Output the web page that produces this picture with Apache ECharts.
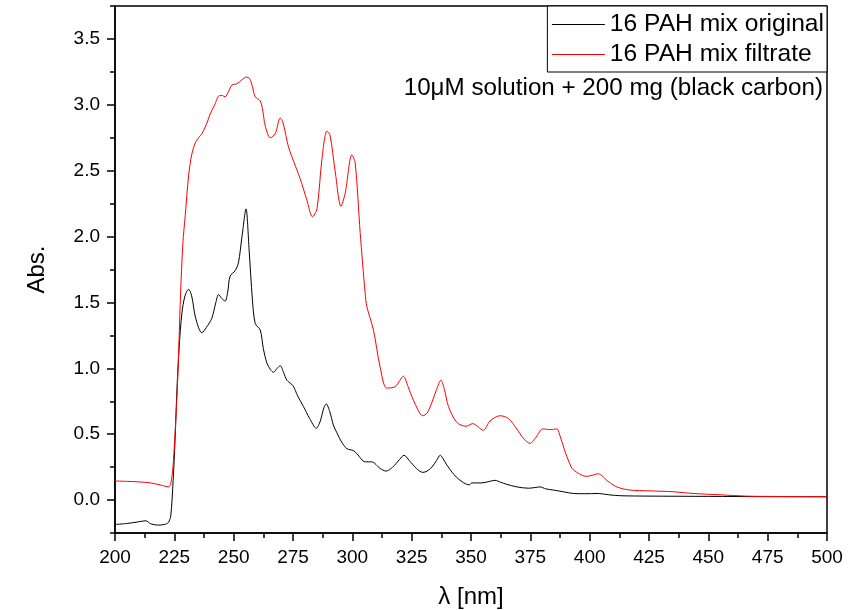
<!DOCTYPE html>
<html>
<head>
<meta charset="utf-8">
<script src="https://cdn.jsdelivr.net/npm/echarts@6/dist/echarts.min.js"></script>
<style>html,body{margin:0;padding:0;background:#fff}#c{width:856px;height:610px}</style>
</head>
<body>
<div id="c"></div>
<script>
// ---- data ----
var origWavelength = [200,205,210,213,215,218,221,222.5,223.5,224.5,225.3,226.1,227,228.2,229.5,231,232.3,234,236.6,238.5,240.8,242.5,243.6,245,246.4,247.5,248.5,250.6,252,253.5,255.2,256.5,257.9,259.1,261.2,262.5,264,265.5,266.8,268.3,269.6,271,272.4,274.9,277,279.4,282,284.8,286.5,288,289,290.5,292,293.5,295.5,297.7,300.5,302,305.4,308.2,311.7,314.2,317,320,321.8,324,327,329.7,331.5,333.5,335.5,337,339,341.2,344.7,349.3,350.3,354.5,357.5,360.1,362.5,365,369.3,374.2,377,379.1,381.5,384.7,388.9,393.1,398,403.6,408,412.8,425,450,475,500];
var origAbs = [-0.185,-0.178,-0.165,-0.157,-0.18,-0.19,-0.185,-0.17,-0.12,0.15,0.45,0.84,1.15,1.42,1.55,1.60,1.55,1.38,1.27,1.31,1.38,1.50,1.56,1.53,1.51,1.58,1.70,1.74,1.80,2.0,2.21,1.90,1.52,1.34,1.29,1.15,1.04,0.99,0.97,1.00,1.02,0.97,0.91,0.87,0.79,0.71,0.62,0.545,0.60,0.70,0.73,0.67,0.57,0.51,0.44,0.39,0.375,0.35,0.29,0.29,0.24,0.22,0.25,0.31,0.34,0.30,0.24,0.21,0.22,0.25,0.30,0.34,0.29,0.23,0.16,0.115,0.13,0.13,0.14,0.15,0.135,0.12,0.10,0.09,0.095,0.10,0.085,0.076,0.063,0.05,0.048,0.05,0.04,0.033,0.03,0.028,0.026,0.025];

var filtWavelength = [200,205,210,215,219,222.6,224,225,226.4,227.6,228.6,229.6,231,232.3,233.8,235.2,236.6,238.5,240.1,242,244,245.2,246.4,247.8,249.3,251.4,253.5,255.3,256.7,258,259.1,261.2,262.3,263.3,265.4,267.5,269.6,270.7,273.1,275.5,278,280.8,283.2,285.1,287.2,289.3,290.6,292.8,295.2,297,299.8,301.2,303.3,305.4,306.1,308.9,311.7,314.5,318,320.1,321.5,323.5,325.7,329.7,331.5,333.5,335.5,337.3,338.8,340.5,344,347.9,350.7,355.2,358,362.2,365.7,369.3,372,374.9,377.5,380.2,383.6,386.1,387.8,389.6,391.5,393.1,398.7,401.5,403.6,405.5,407.2,411.4,417,425,435.2,443.6,455,466.1,480,500];
var filtAbs = [0.145,0.142,0.138,0.13,0.115,0.10,0.18,0.41,0.91,1.55,1.95,2.16,2.46,2.62,2.71,2.75,2.78,2.85,2.93,3.00,3.07,3.07,3.06,3.10,3.15,3.16,3.19,3.21,3.20,3.13,3.06,3.03,2.95,2.84,2.75,2.78,2.90,2.87,2.68,2.56,2.44,2.28,2.15,2.21,2.59,2.80,2.77,2.49,2.23,2.33,2.62,2.56,2.03,1.57,1.47,1.29,1.01,0.85,0.86,0.91,0.94,0.86,0.76,0.64,0.66,0.74,0.84,0.91,0.84,0.71,0.59,0.56,0.58,0.53,0.60,0.64,0.62,0.54,0.47,0.43,0.48,0.54,0.535,0.54,0.47,0.37,0.28,0.23,0.18,0.19,0.20,0.18,0.15,0.10,0.076,0.07,0.063,0.05,0.04,0.03,0.027,0.025];

var seriesNames = ['16 PAH mix original', '16 PAH mix filtrate'];
var yMajorTicks = [0, 0.5, 1.0, 1.5, 2.0, 2.5, 3.0, 3.5];
var annotationText = '10\u03bcM solution + 200 mg (black carbon)';

function zip(a, b) { return a.map(function (v, i) { return [v, b[i]]; }); }

var FONT = '"Liberation Sans", Arial, Helvetica, sans-serif';
var chart = echarts.init(document.getElementById('c'), null, { renderer: 'canvas' });
chart.setOption({
  animation: false,
  backgroundColor: '#fff',
  textStyle: { fontFamily: FONT, color: '#000' },
  grid: { left: 115, right: 29, top: 6, bottom: 77, containLabel: false, outerBoundsMode: 'none',
    show: true, borderColor: '#000', borderWidth: 1.5, backgroundColor: 'transparent' },
  legend: {
    orient: 'vertical', right: 29, top: 6,
    data: seriesNames,
    backgroundColor: '#fff', borderColor: '#000', borderWidth: 1,
    padding: [4, 3, 3, 4], itemGap: 1, itemWidth: 53, itemHeight: 14, itemTextGap: 5,
    itemStyle: { opacity: 0 },
    lineStyle: { width: 1 },
    textStyle: { fontFamily: FONT, fontSize: 24.6, color: '#000', lineHeight: 29 }
  },
  graphic: [{
    type: 'text', right: 33, top: 76,
    style: { text: annotationText, font: '24.2px ' + FONT, fill: '#000', textAlign: 'right' }
  }],
  xAxis: {
    type: 'value', min: 200, max: 500, interval: 25,
    name: '\u03bb [nm]', nameLocation: 'middle', nameGap: 52,
    nameTextStyle: { fontFamily: FONT, fontSize: 24, color: '#000' },
    axisLine: { show: true, onZero: false, lineStyle: { color: '#000', width: 1.5 } },
    axisTick: { show: true, inside: false, length: 8, lineStyle: { color: '#000', width: 1.5 } },
    minorTick: { show: true, splitNumber: 2, length: 5, lineStyle: { color: '#000', width: 1.5 } },
    axisLabel: { fontFamily: FONT, fontSize: 19, color: '#000', margin: 15 },
    splitLine: { show: false }, minorSplitLine: { show: false }
  },
  yAxis: [{
    type: 'value', min: -0.25, max: 3.75, interval: 0.25,
    name: 'Abs.', nameLocation: 'middle', nameGap: 66,
    nameTextStyle: { fontFamily: FONT, fontSize: 24, color: '#000' },
    axisLine: { show: true, onZero: false, lineStyle: { color: '#000', width: 1.5 } },
    axisTick: { show: true, inside: false, length: 8, customValues: yMajorTicks, lineStyle: { color: '#000', width: 1.5 } },
    axisLabel: { fontFamily: FONT, fontSize: 19, color: '#000', margin: 15, customValues: yMajorTicks,
      formatter: function (v) { return v.toFixed(1); } },
    splitLine: { show: false }
  }, {
    type: 'value', min: -0.25, max: 3.75, interval: 0.5, position: 'left',
    axisLine: { show: false },
    axisTick: { show: true, inside: false, length: 5, lineStyle: { color: '#000', width: 1.5 } },
    axisLabel: { show: false },
    splitLine: { show: false }
  }],
  series: [{
    name: seriesNames[0], type: 'line', data: zip(origWavelength, origAbs),
    symbol: 'none', smooth: 0.3, lineStyle: { color: '#000', width: 1 }, itemStyle: { color: '#000' }
  }, {
    name: seriesNames[1], type: 'line', data: zip(filtWavelength, filtAbs),
    symbol: 'none', smooth: 0.3, lineStyle: { color: '#ff0000', width: 1 }, itemStyle: { color: '#ff0000' }
  }]
});
</script>
</body>
</html>
